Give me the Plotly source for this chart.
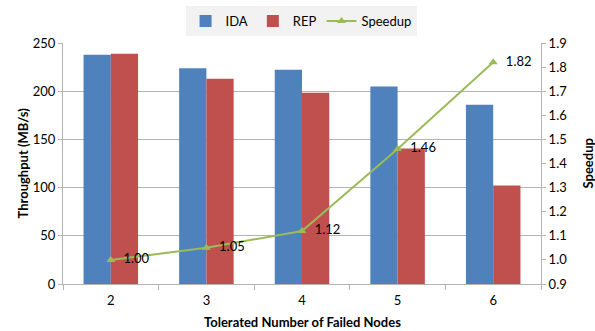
import plotly.graph_objects as go

categories = ["2", "3", "4", "5", "6"]
ida = [237.8, 223.9, 222.2, 204.9, 185.9]
rep = [238.8, 212.9, 198.3, 140.6, 102.2]
speedup = [1.00, 1.05, 1.12, 1.46, 1.82]
speedup_labels = ["1.00", "1.05", "1.12", "1.46", "1.82"]

FONT = "Lato, Noto Sans, sans-serif"
GRID = "#b3b3b3"

fig = go.Figure()
fig.add_trace(go.Bar(x=categories, y=ida, name="IDA", marker=dict(color="#4F81BD", line=dict(width=0))))
fig.add_trace(go.Bar(x=categories, y=rep, name="REP", marker=dict(color="#C0504D", line=dict(width=0))))
fig.add_trace(go.Scatter(
    x=categories, y=speedup, name="Speedup", yaxis="y2",
    mode="lines+markers+text", text=["  " + s for s in speedup_labels], textposition="middle right",
    textfont=dict(size=13, color="#000000", family=FONT),
    line=dict(color="#9BBB59", width=2),
    marker=dict(symbol="triangle-up", size=8, color="#9BBB59"),
    cliponaxis=False,
))

fig.update_layout(
    width=595, height=331,
    margin=dict(l=63, r=54, t=43, b=47),
    paper_bgcolor="white", plot_bgcolor="white",
    font=dict(family=FONT, size=13, color="#000000"),
    barmode="group", bargap=0.43, bargroupgap=0,
    showlegend=True,
    legend=dict(orientation="h", x=0.506, xanchor="center", xref="container",
                y=0.982, yanchor="top", yref="container",
                bgcolor="#f2f2f2", font=dict(size=13, family=FONT),
                itemwidth=30, traceorder="normal"),
    xaxis=dict(
        automargin=False,
        showline=True, linecolor=GRID, linewidth=1,
        ticks="outside", ticklen=5, tickcolor=GRID, tickson="boundaries",
        tickfont=dict(size=13), ticklabelstandoff=4,
    ),
    yaxis=dict(
        automargin=False,
        range=[0, 250], dtick=50, showgrid=True, gridcolor=GRID, gridwidth=1,
        showline=True, linecolor=GRID, ticks="outside", ticklen=4, tickcolor=GRID,
        zeroline=False, tickfont=dict(size=13),
    ),
    yaxis2=dict(
        automargin=False,
        overlaying="y", side="right", range=[0.9, 1.9], dtick=0.1, tickformat=".1f",
        showgrid=False, showline=True, linecolor=GRID, ticks="outside", ticklen=4,
        tickcolor=GRID, zeroline=False, tickfont=dict(size=13),
    ),
    annotations=[
        dict(text="<b>Tolerated Number of Failed Nodes</b>", xref="paper", yref="paper",
             x=0.5, y=0, yshift=-38, xanchor="center", yanchor="middle", showarrow=False,
             font=dict(size=13, family=FONT)),
        dict(text="<b>Throughput (MB/s)</b>", xref="paper", yref="paper",
             x=0, xshift=-41, y=0.5, xanchor="center", yanchor="middle", textangle=-90,
             showarrow=False, font=dict(size=13, family=FONT)),
        dict(text="<b>Speedup</b>", xref="paper", yref="paper",
             x=1, xshift=46, y=0.5, xanchor="center", yanchor="middle", textangle=-90,
             showarrow=False, font=dict(size=13, family=FONT)),
    ],
)
fig.write_html("out.html", config={"displayModeBar": False},
               post_script="document.body.style.margin='0px';")
